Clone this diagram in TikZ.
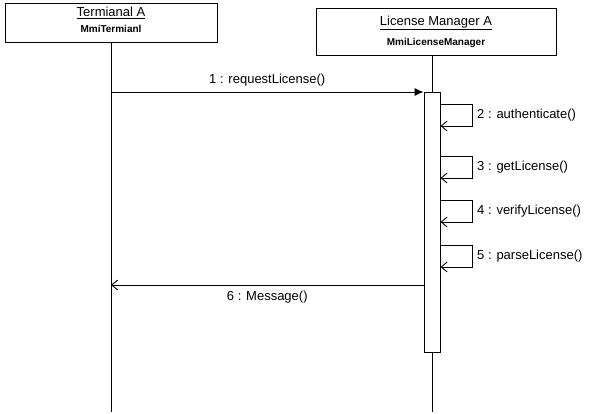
\documentclass[tikz,border=0pt]{standalone}
\usepackage{fontspec}
\setmainfont{Liberation Sans}
\usetikzlibrary{positioning,arrows.meta}

\begin{document}
\begin{tikzpicture}[x=1pt, y=-1pt, line width=0.9pt, every node/.style={font=\fontsize{13}{15}\selectfont}]
  \tikzstyle{obj}=[draw, fill=white, align=center, inner sep=0pt]
  \tikzstyle{bar}=[draw, fill=white, minimum width=16pt, minimum height=260pt, inner sep=0pt]
  \tikzstyle{sub}=[font=\fontsize{10}{12}\selectfont\bfseries]
  \tikzstyle{call}=[-{Latex[length=9pt,width=8pt]}]
  \tikzstyle{back}=[-{Straight Barb[length=6pt,width=10pt]}]
  \useasboundingbox (0,0) rectangle (592,414);
  % objects
  \node[obj, minimum width=212pt, minimum height=39pt] (termA) at (111,22.5) {};
  \node (termTitle) at (111,13) {\underline{Termianal A}};
  \node[sub, below=-1pt of termTitle] (termType) {MmiTermianl};
  \node[obj, minimum width=240pt, minimum height=47pt] (lmA) at (436,32) {};
  \node (lmTitle) at (436,23) {\underline{License Manager A}};
  \node[sub, below=1pt of lmTitle] (lmType) {MmiLicenseManager};
  % lifelines and activation
  \node[bar] (act) at (432,222) {};
  \coordinate (termEnd) at (termA.south |- 0,412);
  \coordinate (lmEnd) at (act.south |- 0,412);
  \draw (termA.south) -- (termEnd);
  \draw (lmA.south -| act.north) -- (act.north);
  \draw (act.south) -- (lmEnd);
  % request
  \coordinate (reqFrom) at (termA.south |- 0,92);
  \draw[call] (reqFrom) -- node[above=2pt] {1 : requestLicense()} (reqFrom -| act.west);
  % self calls
  \foreach \y/\txt [count=\i from 2] in {104/authenticate(), 156/getLicense(), 200/verifyLicense(), 245/parseLicense()} {
    \coordinate (s\i) at (act.east |- 0,\y);
    \draw[back] (s\i) -- ++(32,0) |- node[right=1pt, pos=0.25] {\i{} : \txt} ++(-32,22);
  }
  % reply
  \coordinate (msgFrom) at (act.west |- 0,285);
  \draw[back] (msgFrom) -- node[below=2pt] {6 : Message()} (msgFrom -| termA.south);
\end{tikzpicture}
\end{document}
